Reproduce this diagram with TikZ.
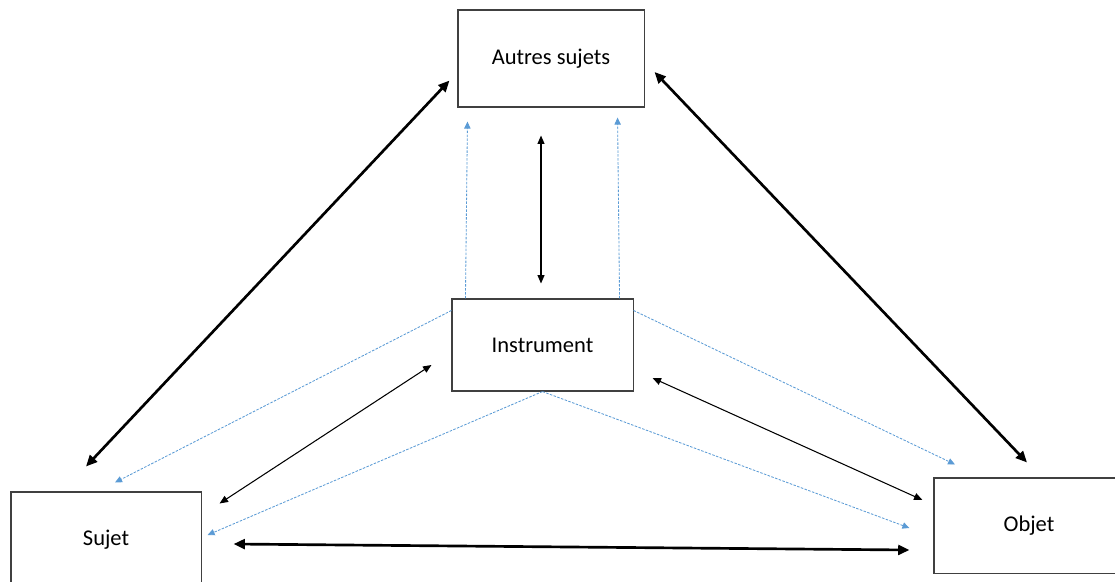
\documentclass[tikz,border=0pt]{standalone}
\usepackage{fontspec}
\setmainfont{Carlito}
\usetikzlibrary{arrows.meta}
\definecolor{lienbleu}{RGB}{91,155,213}
\tikzset{
  boite/.style={draw=black!75, line width=0.75pt, inner sep=0pt, font=\fontsize{16}{19}\selectfont},
  fort/.style={black, line width=1.9pt, {Triangle[length=8pt,width=7pt]}-{Triangle[length=8pt,width=7pt]}},
  fin/.style={black, line width=0.75pt, {Triangle[length=6pt,width=5pt]}-{Triangle[length=6pt,width=5pt]}},
  bleu/.style={lienbleu, line width=0.6pt, dash pattern=on 1.8pt off 1pt, -{Triangle[length=5pt,width=4.5pt]}}
}
\begin{document}
\begin{tikzpicture}[x=0.025cm, y=-0.025cm]
  \useasboundingbox (0,0) rectangle (1115,581);
  \clip (0,0) rectangle (1115,581);

  % Marking box Autres sujets
  \node [boite, minimum width=4.65cm, minimum height=2.425cm] (autres) at (551,58.5) {Autres sujets};

  % Marking box Instrument
  \node [boite, minimum width=4.525cm, minimum height=2.3cm] (instr) at (542.5,345) {Instrument};

  % Marking box Sujet
  \node [boite, minimum width=4.75cm, minimum height=2.375cm] (sujet) at (106,539.5) {Sujet};

  % Marking box Objet
  \node [boite, minimum width=4.75cm, minimum height=2.375cm] (objet) at (1029,525.5) {Objet};

  % Drawing thick links of the triangle
  \draw [fort] ([shift={(-20,-25)}]sujet.north) -- ([shift={(-8,-27)}]autres.south west);
  \draw [fort] ([shift={(10,13.5)}]autres.east) -- ([shift={(-2,-15)}]objet.north);
  \draw [fort] ([shift={(32,4.5)}]sujet.east) -- ([shift={(-24,24.5)}]objet.west);

  % Drawing thin links to Instrument
  \draw [fin] ([shift={(-1.5,-15)}]instr.north) -- ([shift={(-10,28)}]autres.south);
  \draw [fin] ([shift={(-20,20)}]instr.west) -- ([shift={(18,12)}]sujet.north east);
  \draw [fin] ([shift={(19,33)}]instr.east) -- ([shift={(-11,-25.5)}]objet.west);

  % Drawing dotted blue links
  \draw [bleu] ([shift={(14,0)}]instr.north west) -- ([shift={(10,14)}]autres.south west);
  \draw [bleu] ([shift={(-14,0)}]instr.north east) -- ([shift={(-27,10)}]autres.south east);
  \draw [bleu] ([shift={(0,12)}]instr.north west) -- ([shift={(9,-9)}]sujet.north);
  \draw [bleu] (instr.south) -- ([shift={(6,-4.5)}]sujet.east);
  \draw [bleu] (instr.south) -- ([shift={(-24,2.5)}]objet.west);
  \draw [bleu] ([shift={(0,12)}]instr.north east) -- ([shift={(-74,-13)}]objet.north);
\end{tikzpicture}
\end{document}
